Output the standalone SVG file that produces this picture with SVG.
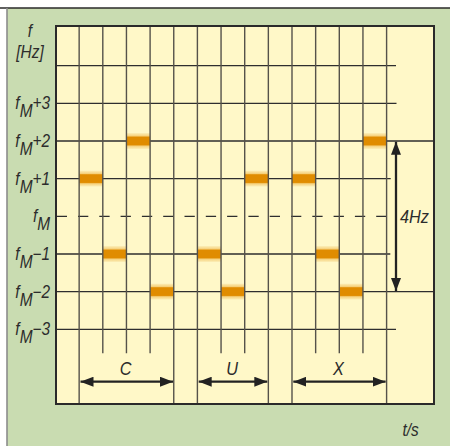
<svg xmlns="http://www.w3.org/2000/svg" width="450" height="446" viewBox="0 0 450 446">
<style>
.lbl{font-family:"Liberation Sans",Arial,sans-serif;font-style:italic;font-size:17.5px;fill:#2c2c2c;}
.big{font-size:18.5px;}
.h{stroke:#2e2e2e;stroke-width:1.3;fill:none;}
.v{stroke:#55524a;stroke-width:1.4;fill:none;}
.dash{stroke:#2e2e2e;stroke-width:1.3;stroke-dasharray:10.3 11;fill:none;}
.shaft{stroke:#222;stroke-width:2.3;fill:none;}
.bar{fill:url(#barGrad);}
</style>
<defs>
<linearGradient id="barGrad" x1="0" y1="0" x2="0" y2="1">
<stop offset="0" stop-color="#FCEFB8"/>
<stop offset="0.18" stop-color="#F6D27E"/>
<stop offset="0.26" stop-color="#E08C00"/>
<stop offset="0.74" stop-color="#E08C00"/>
<stop offset="0.82" stop-color="#F6D27E"/>
<stop offset="1" stop-color="#FCEFB8"/>
</linearGradient>
<marker id="ah" viewBox="0 0 13 10" refX="13" refY="5" markerWidth="13" markerHeight="10" markerUnits="userSpaceOnUse" orient="auto-start-reverse">
<path d="M0,0 L13,5 L0,10 Z" fill="#222"/>
</marker>
</defs>
<g id="background">
<rect x="0" y="0" width="450" height="446" fill="#ffffff"/>
<rect x="7" y="8" width="443" height="438" fill="#C9DCB1"/>
<line x1="0" y1="8" x2="450" y2="8" stroke="#2a2a2a" stroke-width="1.4"/>
<line x1="7" y1="8" x2="7" y2="446" stroke="#8c8c8c" stroke-width="1.6"/>
<rect x="56" y="26" width="378" height="378" fill="#FFF8C8"/>
</g>
<g id="grid">
<line class="h" x1="56" y1="65.7" x2="396" y2="65.7"/>
<line class="h" x1="56" y1="103.3" x2="396.5" y2="103.3"/>
<line class="h" x1="56" y1="141" x2="434" y2="141"/>
<line class="h" x1="56" y1="178.6" x2="390.7" y2="178.6"/>
<line class="dash" x1="56.7" y1="216.3" x2="390" y2="216.3"/>
<line class="h" x1="56" y1="254" x2="390.3" y2="254"/>
<line class="h" x1="56" y1="291.6" x2="434" y2="291.6"/>
<line class="h" x1="56" y1="329.3" x2="396" y2="329.3"/>
</g>
<g id="bars">
<rect class="bar" x="126.45" y="133" width="23.65" height="16"/>
<rect class="bar" x="362.95" y="133" width="23.65" height="16"/>
<rect class="bar" x="79.15" y="170.6" width="23.65" height="16"/>
<rect class="bar" x="244.7" y="170.6" width="23.65" height="16"/>
<rect class="bar" x="292" y="170.6" width="23.65" height="16"/>
<rect class="bar" x="102.8" y="246" width="23.65" height="16"/>
<rect class="bar" x="197.4" y="246" width="23.65" height="16"/>
<rect class="bar" x="315.65" y="246" width="23.65" height="16"/>
<rect class="bar" x="150.1" y="283.6" width="23.65" height="16"/>
<rect class="bar" x="221.05" y="283.6" width="23.65" height="16"/>
<rect class="bar" x="339.3" y="283.6" width="23.65" height="16"/>
</g>
<g id="verticals">
<line class="v" x1="79.15" y1="26" x2="79.15" y2="404"/>
<line class="v" x1="102.8" y1="26" x2="102.8" y2="353.3"/>
<line class="v" x1="126.45" y1="26" x2="126.45" y2="353.3"/>
<line class="v" x1="150.1" y1="26" x2="150.1" y2="353.3"/>
<line class="v" x1="173.75" y1="26" x2="173.75" y2="404"/>
<line class="v" x1="197.4" y1="26" x2="197.4" y2="404"/>
<line class="v" x1="221.05" y1="26" x2="221.05" y2="353.3"/>
<line class="v" x1="244.7" y1="26" x2="244.7" y2="353.3"/>
<line class="v" x1="268.35" y1="26" x2="268.35" y2="404"/>
<line class="v" x1="292" y1="26" x2="292" y2="404"/>
<line class="v" x1="315.65" y1="26" x2="315.65" y2="353.3"/>
<line class="v" x1="339.3" y1="26" x2="339.3" y2="353.3"/>
<line class="v" x1="362.95" y1="26" x2="362.95" y2="353.3"/>
<line class="v" x1="386.6" y1="26" x2="386.6" y2="404"/>
</g>
<g id="panel-border">
<rect x="56" y="26" width="378" height="378" fill="none" stroke="#2a2a2a" stroke-width="2"/>
</g>
<g id="connectors">
<line class="shaft" x1="80.5" y1="381.7" x2="173" y2="381.7" marker-start="url(#ah)" marker-end="url(#ah)"/>
<line class="shaft" x1="198.7" y1="381.7" x2="267.3" y2="381.7" marker-start="url(#ah)" marker-end="url(#ah)"/>
<line class="shaft" x1="293.3" y1="381.7" x2="385.6" y2="381.7" marker-start="url(#ah)" marker-end="url(#ah)"/>
<line class="shaft" x1="396" y1="141.7" x2="396" y2="291" marker-start="url(#ah)" marker-end="url(#ah)"/>
</g>
<g id="labels">
<text class="lbl" transform="translate(30,36.7) scale(0.88,1)" text-anchor="middle">f</text>
<text class="lbl" transform="translate(30,57.5) scale(0.88,1)" text-anchor="middle">[Hz]</text>
<text class="lbl" transform="translate(50,109) scale(0.88,1)" text-anchor="end">f<tspan dy="8">M</tspan><tspan dy="-8">+3</tspan></text>
<text class="lbl" transform="translate(50,147) scale(0.88,1)" text-anchor="end">f<tspan dy="8">M</tspan><tspan dy="-8">+2</tspan></text>
<text class="lbl" transform="translate(50,184.8) scale(0.88,1)" text-anchor="end">f<tspan dy="8">M</tspan><tspan dy="-8">+1</tspan></text>
<text class="lbl" transform="translate(50,222.3) scale(0.88,1)" text-anchor="end">f<tspan dy="8">M</tspan></text>
<text class="lbl" transform="translate(50,260) scale(0.88,1)" text-anchor="end">f<tspan dy="8">M</tspan><tspan dy="-8">−1</tspan></text>
<text class="lbl" transform="translate(50,297.6) scale(0.88,1)" text-anchor="end">f<tspan dy="8">M</tspan><tspan dy="-8">−2</tspan></text>
<text class="lbl" transform="translate(50,335.3) scale(0.88,1)" text-anchor="end">f<tspan dy="8">M</tspan><tspan dy="-8">−3</tspan></text>
<text class="lbl big" transform="translate(125.7,375) scale(0.88,1)" text-anchor="middle">C</text>
<text class="lbl big" transform="translate(232,375) scale(0.88,1)" text-anchor="middle">U</text>
<text class="lbl big" transform="translate(338.5,375) scale(0.88,1)" text-anchor="middle">X</text>
<text class="lbl big" transform="translate(414.5,223.3) scale(0.88,1)" text-anchor="middle">4Hz</text>
<text class="lbl" transform="translate(410.5,436) scale(0.88,1)" text-anchor="middle">t/s</text>
</g>
</svg>
